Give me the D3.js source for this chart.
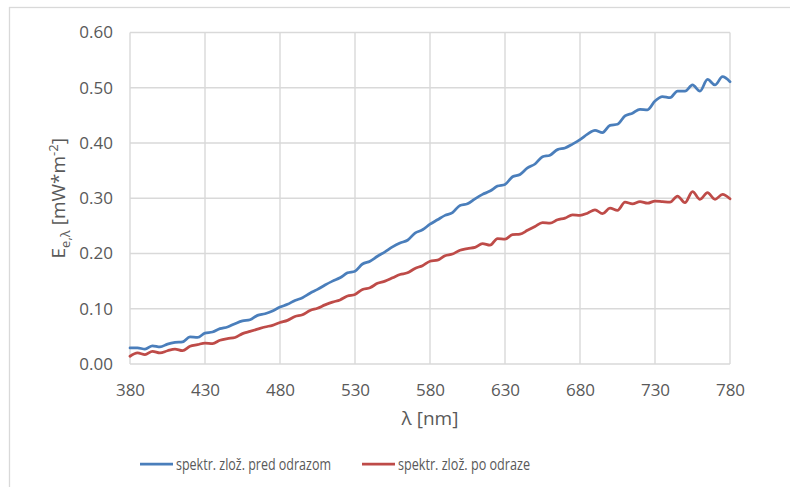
<!DOCTYPE html>
<html>
<head>
<meta charset="utf-8">
<script src="https://cdn.jsdelivr.net/npm/d3@7/dist/d3.min.js"></script>
<style>
  html, body { margin: 0; padding: 0; background: #ffffff; }
  svg { display: block; }
  text { font-family: "Open Sans", "Noto Sans", sans-serif; fill: #595959; }
</style>
</head>
<body>
<svg id="chart" width="790" height="487"></svg>
<script>
// Wavelength grid (nm), 5 nm step
const wavelengths = d3.range(380, 781, 5);

// Spectral irradiance before reflection [mW*m^-2]
const predOdrazom = [
  0.029, 0.029, 0.027, 0.033, 0.031, 0.036, 0.039, 0.040, 0.049, 0.048,
  0.056, 0.058, 0.064, 0.067, 0.073, 0.078, 0.080, 0.088, 0.091, 0.096,
  0.103, 0.108, 0.115, 0.120, 0.128, 0.135, 0.143, 0.150, 0.156, 0.165,
  0.168, 0.181, 0.186, 0.195, 0.203, 0.212, 0.219, 0.224, 0.237, 0.243,
  0.253, 0.261, 0.269, 0.274, 0.287, 0.290, 0.299, 0.307, 0.313, 0.322,
  0.325, 0.339, 0.343, 0.355, 0.362, 0.375, 0.378, 0.388, 0.391, 0.398,
  0.406, 0.416, 0.423, 0.419, 0.432, 0.434, 0.449, 0.454, 0.461, 0.460,
  0.476, 0.484, 0.482, 0.494, 0.494, 0.505, 0.494, 0.515, 0.505, 0.520,
  0.511
];

// Spectral irradiance after reflection [mW*m^-2]
const poOdraze = [
  0.014, 0.020, 0.017, 0.023, 0.020, 0.024, 0.027, 0.024, 0.032, 0.035,
  0.038, 0.037, 0.043, 0.046, 0.048, 0.055, 0.059, 0.063, 0.067, 0.070,
  0.075, 0.079, 0.086, 0.089, 0.097, 0.101, 0.107, 0.112, 0.116, 0.123,
  0.126, 0.135, 0.138, 0.146, 0.150, 0.156, 0.162, 0.165, 0.173, 0.178,
  0.186, 0.188, 0.196, 0.199, 0.206, 0.209, 0.211, 0.218, 0.215, 0.227,
  0.226, 0.234, 0.235, 0.242, 0.249, 0.256, 0.255, 0.261, 0.264, 0.270,
  0.269, 0.273, 0.279, 0.272, 0.282, 0.278, 0.293, 0.290, 0.294, 0.291,
  0.295, 0.294, 0.293, 0.304, 0.292, 0.312, 0.298, 0.310, 0.298, 0.307,
  0.299
];

const xTicks = [380, 430, 480, 530, 580, 630, 680, 730, 780];
const yTicks = [0.0, 0.1, 0.2, 0.3, 0.4, 0.5, 0.6];

const seriesNames = ["spektr. zlož. pred odrazom", "spektr. zlož. po odraze"];
const seriesColors = ["#4a7ebb", "#be4b48"];

const svg = d3.select("#chart");
const margin = { left: 130, right: 60, top: 32.5, bottom: 123 };
const W = 790, H = 487;

// outer chart frame
svg.append("rect")
  .attr("x", 9.5).attr("y", 7.5)
  .attr("width", 800).attr("height", 500)
  .attr("fill", "none").attr("stroke", "#d9d9d9").attr("stroke-width", 1.3);

const x = d3.scaleLinear().domain([380, 780]).range([margin.left, W - margin.right]);
const y = d3.scaleLinear().domain([0, 0.6]).range([H - margin.bottom, margin.top]);

const grid = svg.append("g");
grid.selectAll("line.h").data(yTicks).join("line")
  .attr("x1", x(380)).attr("x2", x(780))
  .attr("y1", d => y(d)).attr("y2", d => y(d))
  .attr("stroke", "#d9d9d9").attr("stroke-width", 1.4);
grid.selectAll("line.v").data(xTicks).join("line")
  .attr("x1", d => x(d)).attr("x2", d => x(d))
  .attr("y1", y(0)).attr("y2", y(0.6))
  .attr("stroke", "#d9d9d9").attr("stroke-width", 1.4);

// axes (labels only, lines come from the grid)
const xAxis = d3.axisBottom(x).tickValues(xTicks).tickSize(0).tickPadding(20).tickFormat(d3.format("d"));
const gx = svg.append("g").attr("transform", `translate(0,${y(0)})`).call(xAxis);
gx.select(".domain").remove();
gx.selectAll("text").style("font-size", "17px").attr("fill", "#595959")
  .style("font-family", '"Open Sans", sans-serif');

const yAxis = d3.axisLeft(y).tickValues(yTicks).tickSize(0).tickPadding(17).tickFormat(d3.format(".2f"));
const gy = svg.append("g").attr("transform", `translate(${x(380)},0)`).call(yAxis);
gy.select(".domain").remove();
gy.selectAll("text").style("font-size", "17px").attr("fill", "#595959")
  .style("font-family", '"Open Sans", sans-serif');

// series lines
const line = d3.line()
  .x((d, i) => x(wavelengths[i]))
  .y(d => y(d))
  .curve(d3.curveMonotoneX);

[predOdrazom, poOdraze].forEach((s, k) => {
  svg.append("path")
    .datum(s)
    .attr("d", line)
    .attr("fill", "none")
    .attr("stroke", seriesColors[k])
    .attr("stroke-width", 2.75)
    .attr("stroke-linejoin", "round")
    .attr("stroke-linecap", "round");
});

// axis titles
svg.append("text")
  .attr("x", (x(380) + x(780)) / 2).attr("y", 425)
  .attr("text-anchor", "middle")
  .style("font-size", "19px")
  .text("λ [nm]");

const yTitle = svg.append("text")
  .attr("transform", `translate(65,${(y(0) + y(0.6)) / 2}) rotate(-90)`)
  .attr("text-anchor", "middle")
  .style("font-size", "19px");
yTitle.append("tspan").text("E");
yTitle.append("tspan").attr("dy", 5).style("font-size", "13px").text("e,λ");
yTitle.append("tspan").attr("dy", -5).text(" [mW*m");
yTitle.append("tspan").attr("dy", -7).style("font-size", "13px").text("-2");
yTitle.append("tspan").attr("dy", 7).text("]");

// legend
const legendX = [140, 362];
const legendW = [155, 132];
const legendY = 464;
seriesNames.forEach((name, k) => {
  svg.append("line")
    .attr("x1", legendX[k]).attr("x2", legendX[k] + 33)
    .attr("y1", legendY).attr("y2", legendY)
    .attr("stroke", seriesColors[k]).attr("stroke-width", 2.75);
  svg.append("text")
    .attr("x", legendX[k] + 36).attr("y", legendY + 6)
    .attr("textLength", legendW[k])
    .attr("lengthAdjust", "spacingAndGlyphs")
    .style("font-size", "16.5px")
    .text(name);
});
</script>
</body>
</html>
